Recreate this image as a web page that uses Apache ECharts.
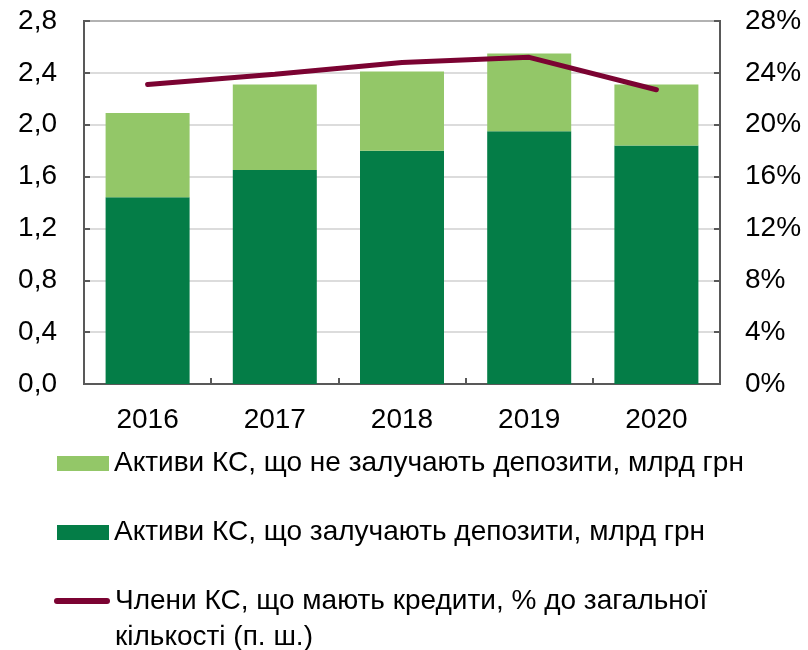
<!DOCTYPE html>
<html>
<head>
<meta charset="utf-8">
<script src="https://cdn.jsdelivr.net/npm/echarts@6/dist/echarts.min.js"></script>
<style>html,body{margin:0;padding:0;background:#fff}#c{width:808px;height:650px}</style>
</head>
<body>
<div id="c"></div>
<script>
var categories = ['2016', '2017', '2018', '2019', '2020'];
var depositAssets = [1.44, 1.65, 1.80, 1.95, 1.84];
var nonDepositAssets = [0.65, 0.66, 0.61, 0.60, 0.47];
var creditShare = [23.1, 23.9, 24.8, 25.2, 22.7];
var leftTicks = ['0,0', '0,4', '0,8', '1,2', '1,6', '2,0', '2,4', '2,8'];
var rightTicks = ['0%', '4%', '8%', '12%', '16%', '20%', '24%', '28%'];
var names = [
  'Активи КС, що не залучають депозити, млрд грн',
  'Активи КС, що залучають депозити, млрд грн',
  'Члени КС, що мають кредити, % до загальної кількості (п. ш.)'
];

var FONT = 'Liberation Sans, Arial, sans-serif';
var FS = 28;
var axisColor = '#595959';
var lineColor = '#7b0332';
var chart = echarts.init(document.getElementById('c'), null, {renderer: 'canvas'});
function legendAt(name, left, top, icon, w, h, color) {
  return {
    data: [{name: name, icon: icon, itemStyle: {color: color, borderWidth: 0, opacity: 1}}],
    left: left, top: top, orient: 'vertical',
    itemWidth: w, itemHeight: h, itemGap: 0,
    padding: 0,
    textStyle: {fontFamily: FONT, fontSize: FS, color: '#000', lineHeight: 36},
    formatter: function (n) {
      return n === names[2] ? ' \nЧлени КС, що мають кредити, % до загальної\nкількості (п. ш.)' : n;
    },
    selectedMode: false
  };
}
chart.setOption({
  animation: false,
  textStyle: {fontFamily: FONT},
  grid: {left: 84, right: 88, top: 21, height: 363, show: true, borderColor: axisColor, borderWidth: 2, backgroundColor: 'transparent'},
  legend: [
    legendAt(names[0], 57, 445.5, 'rect', 52, 15, '#93c768'),
    legendAt(names[1], 57, 514.5, 'rect', 52, 15, '#047d47'),
    legendAt(names[2], 54, 547, 'path://M3,0 L53,0 A3,3 0 0 1 53,6 L3,6 A3,3 0 0 1 3,0 Z', 56, 6, lineColor)
  ],
  xAxis: {
    type: 'category', data: categories,
    axisLine: {lineStyle: {color: axisColor, width: 2}},
    axisTick: {show: true, inside: true, length: 6, lineStyle: {color: axisColor, width: 2}},
    axisLabel: {fontFamily: FONT, fontSize: FS, color: '#000', margin: 22}
  },
  yAxis: [{
    type: 'value', min: 0, max: 2.8, interval: 0.4,
    axisLine: {show: true, lineStyle: {color: axisColor, width: 2}},
    axisTick: {show: true, inside: true, length: 6, lineStyle: {color: axisColor, width: 2}},
    splitLine: {lineStyle: {color: '#d0d0d0', width: 1.5}},
    axisLabel: {fontFamily: FONT, fontSize: FS, color: '#000', margin: 27,
      formatter: function (v) { return leftTicks[Math.round(v / 0.4)]; }}
  }, {
    type: 'value', min: 0, max: 28, interval: 4, position: 'right',
    axisLine: {show: true, lineStyle: {color: axisColor, width: 2}},
    axisTick: {show: true, inside: true, length: 6, lineStyle: {color: axisColor, width: 2}},
    splitLine: {show: false},
    axisLabel: {fontFamily: FONT, fontSize: FS, color: '#000', margin: 25,
      formatter: function (v) { return rightTicks[Math.round(v / 4)]; }}
  }],
  series: [{
    name: names[1], type: 'bar', stack: 'a', data: depositAssets, barWidth: 84,
    itemStyle: {color: '#047d47'}
  }, {
    name: names[0], type: 'bar', stack: 'a', data: nonDepositAssets, barWidth: 84,
    itemStyle: {color: '#93c768'}
  }, {
    name: names[2], type: 'line', yAxisIndex: 1, data: creditShare,
    symbol: 'none', lineStyle: {color: lineColor, width: 5, cap: 'round'},
    itemStyle: {color: lineColor}
  }]
});
</script>
</body>
</html>
